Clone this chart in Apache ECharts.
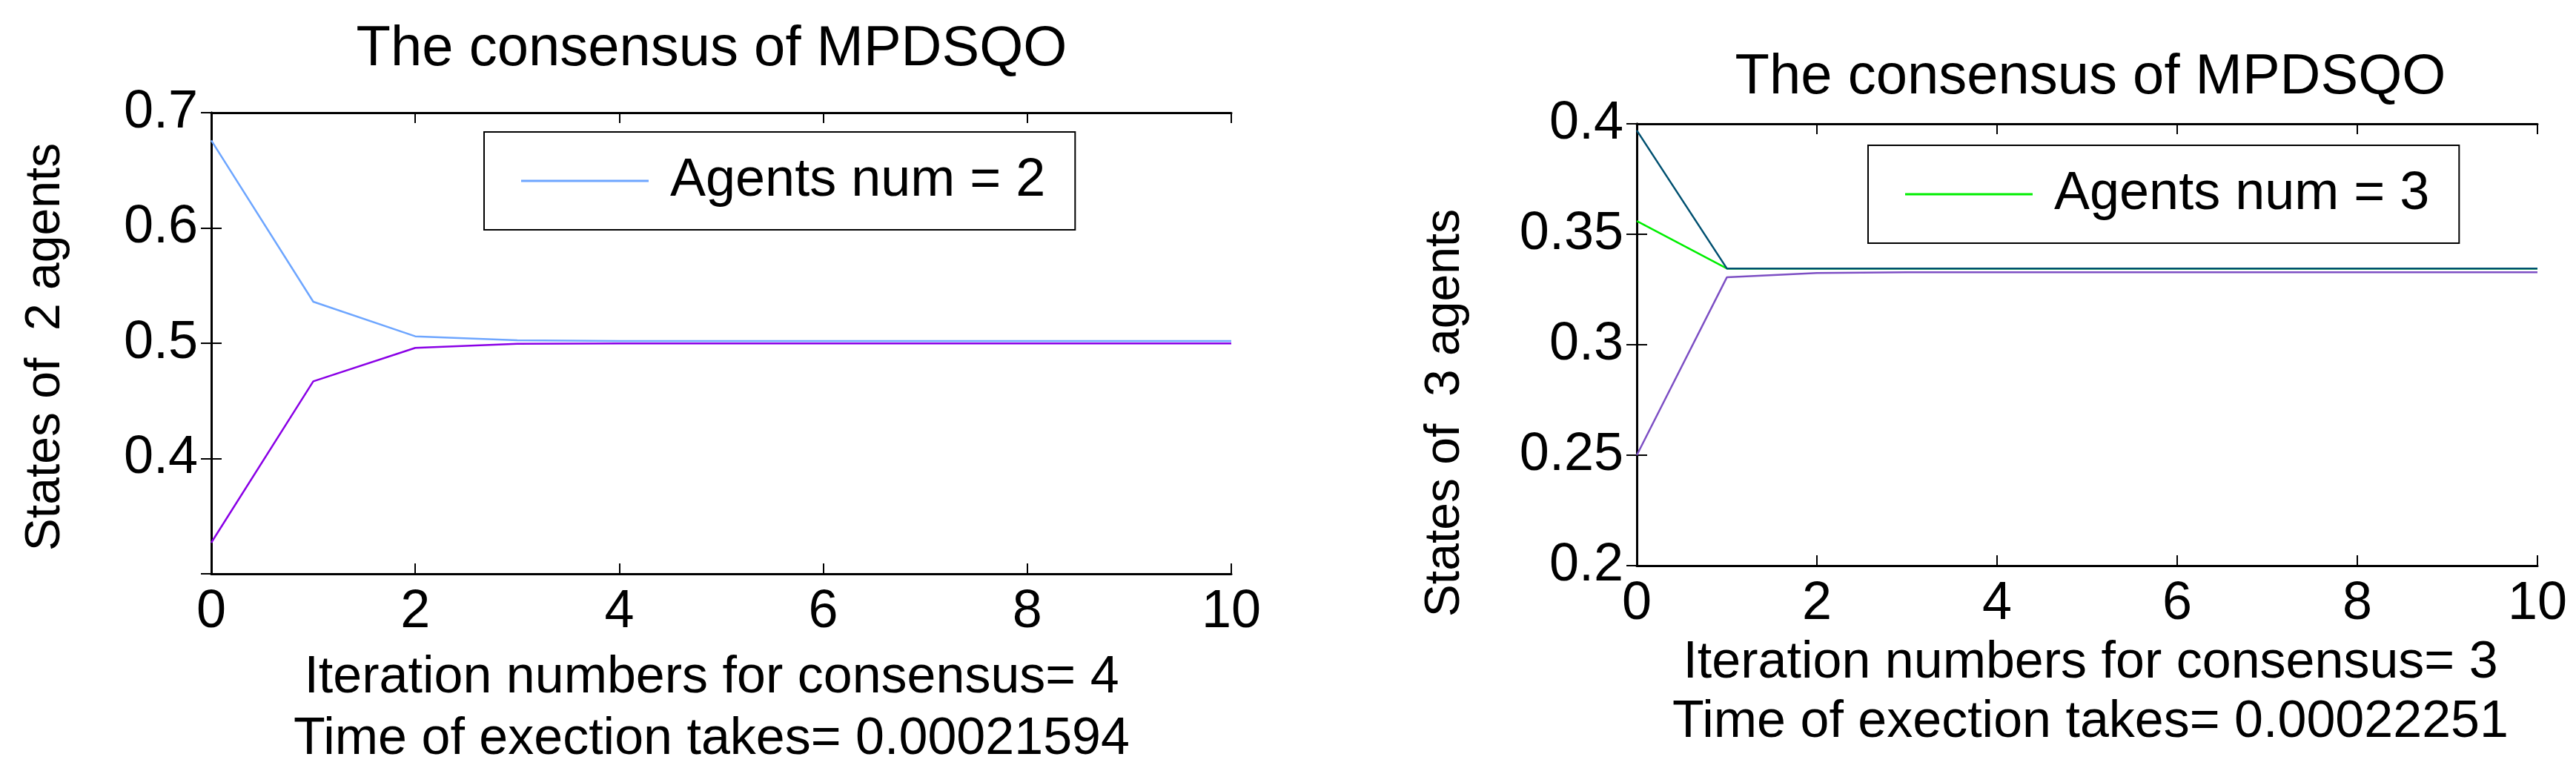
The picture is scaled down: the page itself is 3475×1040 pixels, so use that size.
<!DOCTYPE html>
<html>
<head>
<meta charset="utf-8">
<script src="https://cdn.jsdelivr.net/npm/echarts@6/dist/echarts.min.js"></script>
<style>html,body{margin:0;background:#fff}#c{width:3475px;height:1040px}</style>
</head>
<body>
<div id="c"></div>
<script>
// iterations 0..10
const iters = [0, 1, 2, 3, 4, 5, 6, 7, 8, 9, 10];
// left panel, 2 agents
const agent2A = [0.676, 0.536, 0.506, 0.5025, 0.502, 0.502, 0.502, 0.502, 0.502, 0.502, 0.502];
const agent2B = [0.327, 0.467, 0.496, 0.4995, 0.4998, 0.4998, 0.4998, 0.4998, 0.4998, 0.4998, 0.4998];
// right panel, 3 agents
const agent3Green = [0.356, 0.3345, 0.3345, 0.3345, 0.3345, 0.3345, 0.3345, 0.3345, 0.3345, 0.3345, 0.3345];
const agent3Teal = [0.397, 0.3345, 0.3345, 0.3345, 0.3345, 0.3345, 0.3345, 0.3345, 0.3345, 0.3345, 0.3345];
const agent3Purple = [0.25, 0.3305, 0.3325, 0.3328, 0.3328, 0.3328, 0.3328, 0.3328, 0.3328, 0.3328, 0.3328];
const leftYTicks = [0.3, 0.7, 0.1];
const rightYTicks = [0.2, 0.4, 0.05];

const FONT = 'Liberation Sans, Arial, sans-serif';
const pair = (xs, ys) => xs.map((x, i) => [x, ys[i]]);

function xAxes(gi) {
  const base = {
    type: 'value', gridIndex: gi, min: 0, max: 10, interval: 2,
    axisLine: { show: true, lineStyle: { color: '#000', width: 3 } },
    axisTick: { inside: true, length: 14, lineStyle: { color: '#000', width: 2 } },
    splitLine: { show: false }
  };
  return [
    Object.assign({}, base, { position: 'bottom',
      axisLabel: { fontSize: 72, color: '#000', fontFamily: FONT, margin: 16 } }),
    Object.assign({}, base, { position: 'top', axisLabel: { show: false } })
  ];
}
function yAxes(gi, t, hideMin) {
  const base = {
    type: 'value', gridIndex: gi, min: t[0], max: t[1], interval: t[2],
    axisLine: { show: true, lineStyle: { color: '#000', width: 3 } },
    axisTick: { inside: true, length: 14, lineStyle: { color: '#000', width: 2 } },
    splitLine: { show: false }
  };
  return [
    Object.assign({}, base, { position: 'left',
      axisLabel: { fontSize: 72, color: '#000', fontFamily: FONT, margin: 18,
        formatter: v => (hideMin && Math.abs(v - t[0]) < 1e-9) ? '' : String(+v.toFixed(2)) } }),
    Object.assign({}, base, { position: 'right', axisLabel: { show: false } })
  ];
}
const txt = (text, left, top, size) => ({
  text, left, top, textAlign: 'center',
  textStyle: { fontSize: size, fontWeight: 'normal', color: '#000', fontFamily: FONT }
});

const line = (name, data, color, xi, yi) => ({
  type: 'line', name, data, xAxisIndex: xi, yAxisIndex: yi, showSymbol: false,
  lineStyle: { color, width: 2.5 }, itemStyle: { color }, animation: false
});

const legendStyle = (left, top, name) => ({
  data: [name], left, top, orient: 'vertical',
  itemWidth: 172, itemHeight: 3,
  padding: [30, 40, 30, 50], borderColor: '#000', borderWidth: 2,
  icon: 'rect',
  textStyle: { fontSize: 72, color: '#000', fontFamily: FONT, padding: [0, 0, 0, 24] }
});

const chart = echarts.init(document.getElementById('c'));
chart.setOption({
  backgroundColor: '#fff',
  animation: false,
  title: [
    txt('The consensus of MPDSQO', 955, 24, 76),
    txt('Iteration numbers for consensus= 4', 955, 875, 70),
    txt('Time of exection takes= 0.00021594', 955, 958, 70),
    txt('The consensus of MPDSQO', 2815, 62, 76),
    txt('Iteration numbers for consensus= 3', 2815, 855, 70),
    txt('Time of exection takes= 0.00022251', 2815, 935, 70)
  ],
  graphic: [
    { type: 'text', x: 62, y: 468, rotation: Math.PI / 2, style: {
      text: 'States of  2 agents', fontSize: 66, fontFamily: FONT, fill: '#000',
      align: 'center', verticalAlign: 'middle' } },
    { type: 'text', x: 1950, y: 557, rotation: Math.PI / 2, style: {
      text: 'States of  3 agents', fontSize: 66, fontFamily: FONT, fill: '#000',
      align: 'center', verticalAlign: 'middle' } }
  ],
  legend: [legendStyle(653, 178, 'Agents num = 2'), legendStyle(2520, 196, 'Agents num = 3')],
  grid: [
    { left: 285, top: 152, width: 1376, height: 622 },
    { left: 2208, top: 167, width: 1215, height: 596 }
  ],
  xAxis: [...xAxes(0), ...xAxes(1)],
  yAxis: [...yAxes(0, leftYTicks, true), ...yAxes(1, rightYTicks, false)],
  series: [
    line('Agents num = 2', pair(iters, agent2A), '#6ea6ff', 0, 0),
    line('agent 2', pair(iters, agent2B), '#8a00e6', 0, 0),
    line('Agents num = 3', pair(iters, agent3Green), '#00ee00', 2, 2),
    line('agent 3b', pair(iters, agent3Teal), '#005070', 2, 2),
    line('agent 3c', pair(iters, agent3Purple), '#7d4fc4', 2, 2)
  ]
});
</script>
</body>
</html>
